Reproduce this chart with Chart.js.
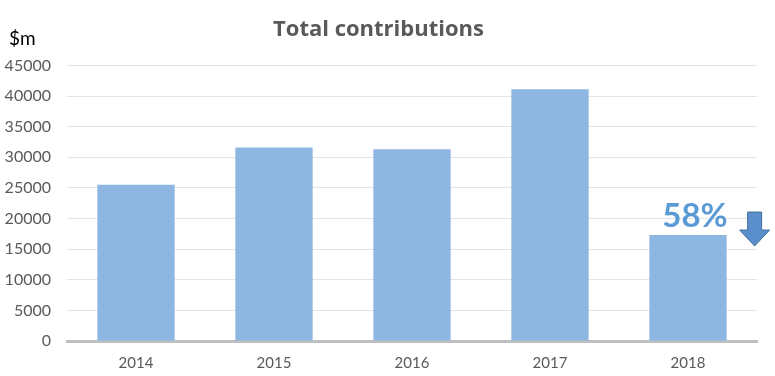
<!DOCTYPE html>
<html>
<head>
<meta charset="utf-8">
<script src="https://cdn.jsdelivr.net/npm/chart.js@4/dist/chart.umd.min.js"></script>
<style>
  html, body { margin: 0; padding: 0; background: #fff; }
  #wrap { width: 775px; height: 376px; }
</style>
</head>
<body>
<div id="wrap"><canvas id="contribChart"></canvas></div>
<script>
// data
const years = ['2014', '2015', '2016', '2017', '2018'];
const contributions = [25500, 31600, 31300, 41100, 17300];
const yTicks = [0, 5000, 10000, 15000, 20000, 25000, 30000, 35000, 40000, 45000];
const unitLabel = '$m';
const dropLabel = '58%';

// draws the "$m" unit, the 58% note and the down arrow next to the last bar
const annotations = {
    id: 'annotations',
    afterDatasetsDraw(chart) {
        const ctx = chart.ctx;
        ctx.save();
        ctx.fillStyle = '#000';
        ctx.font = '19px Lato';
        ctx.textAlign = 'left';
        ctx.textBaseline = 'alphabetic';
        ctx.fillText(unitLabel, 9, 45);

        const bars = chart.getDatasetMeta(0).data;
        const last = bars[bars.length - 1];
        ctx.fillStyle = '#5b9bd5';
        ctx.font = 'bold 33px Lato';
        ctx.textAlign = 'center';
        ctx.fillText(dropLabel, last.x + 7, last.y - 8);

        // arrow
        const ax = last.x + last.width / 2 + 28;
        const ay = last.y - 23;
        ctx.beginPath();
        ctx.moveTo(ax - 7, ay);
        ctx.lineTo(ax + 7, ay);
        ctx.lineTo(ax + 7, ay + 18);
        ctx.lineTo(ax + 15, ay + 18);
        ctx.lineTo(ax, ay + 34);
        ctx.lineTo(ax - 15, ay + 18);
        ctx.lineTo(ax - 7, ay + 18);
        ctx.closePath();
        ctx.fillStyle = '#5a8fcb';
        ctx.fill();
        ctx.strokeStyle = '#41719c';
        ctx.lineWidth = 1;
        ctx.stroke();
        ctx.restore();
    }
};

const ctx = document.getElementById('contribChart').getContext('2d');
const chart = new Chart(ctx, {
    type: 'bar',
    data: {
        labels: years,
        datasets: [{
            label: 'Total contributions',
            data: contributions,
            backgroundColor: '#8db6e1',
            borderWidth: 0,
            barPercentage: 0.56,
            categoryPercentage: 1
        }]
    },
    options: {
        responsive: true,
        maintainAspectRatio: false,
        animation: false,
        layout: { padding: { top: 0, right: 18, bottom: 0, left: 0 } },
        plugins: {
            legend: { display: false },
            tooltip: { enabled: false },
            title: {
                display: true,
                text: 'Total contributions',
                color: '#595959',
                font: { family: 'Open Sans', size: 22, weight: 'bold' },
                padding: { top: 17, bottom: 22 }
            }
        },
        scales: {
            x: {
                afterFit(scale) { scale.height = 35; },
                grid: { display: false },
                border: { display: true, color: '#bfbfbf', width: 3 },
                ticks: {
                    color: '#595959',
                    font: { family: 'Lato', size: 15 },
                    padding: 5
                }
            },
            y: {
                min: 0,
                max: 45000,
                afterFit(scale) { scale.width = 67; },
                afterBuildTicks(scale) { scale.ticks = yTicks.map(v => ({ value: v })); },
                grid: { color: '#e4e4e4', lineWidth: 1, drawTicks: false },
                border: { display: false },
                ticks: {
                    color: '#595959',
                    font: { family: 'Lato', size: 16 },
                    padding: 16,
                    callback: v => String(v)
                }
            }
        }
    },
    plugins: [annotations]
});
</script>
</body>
</html>
